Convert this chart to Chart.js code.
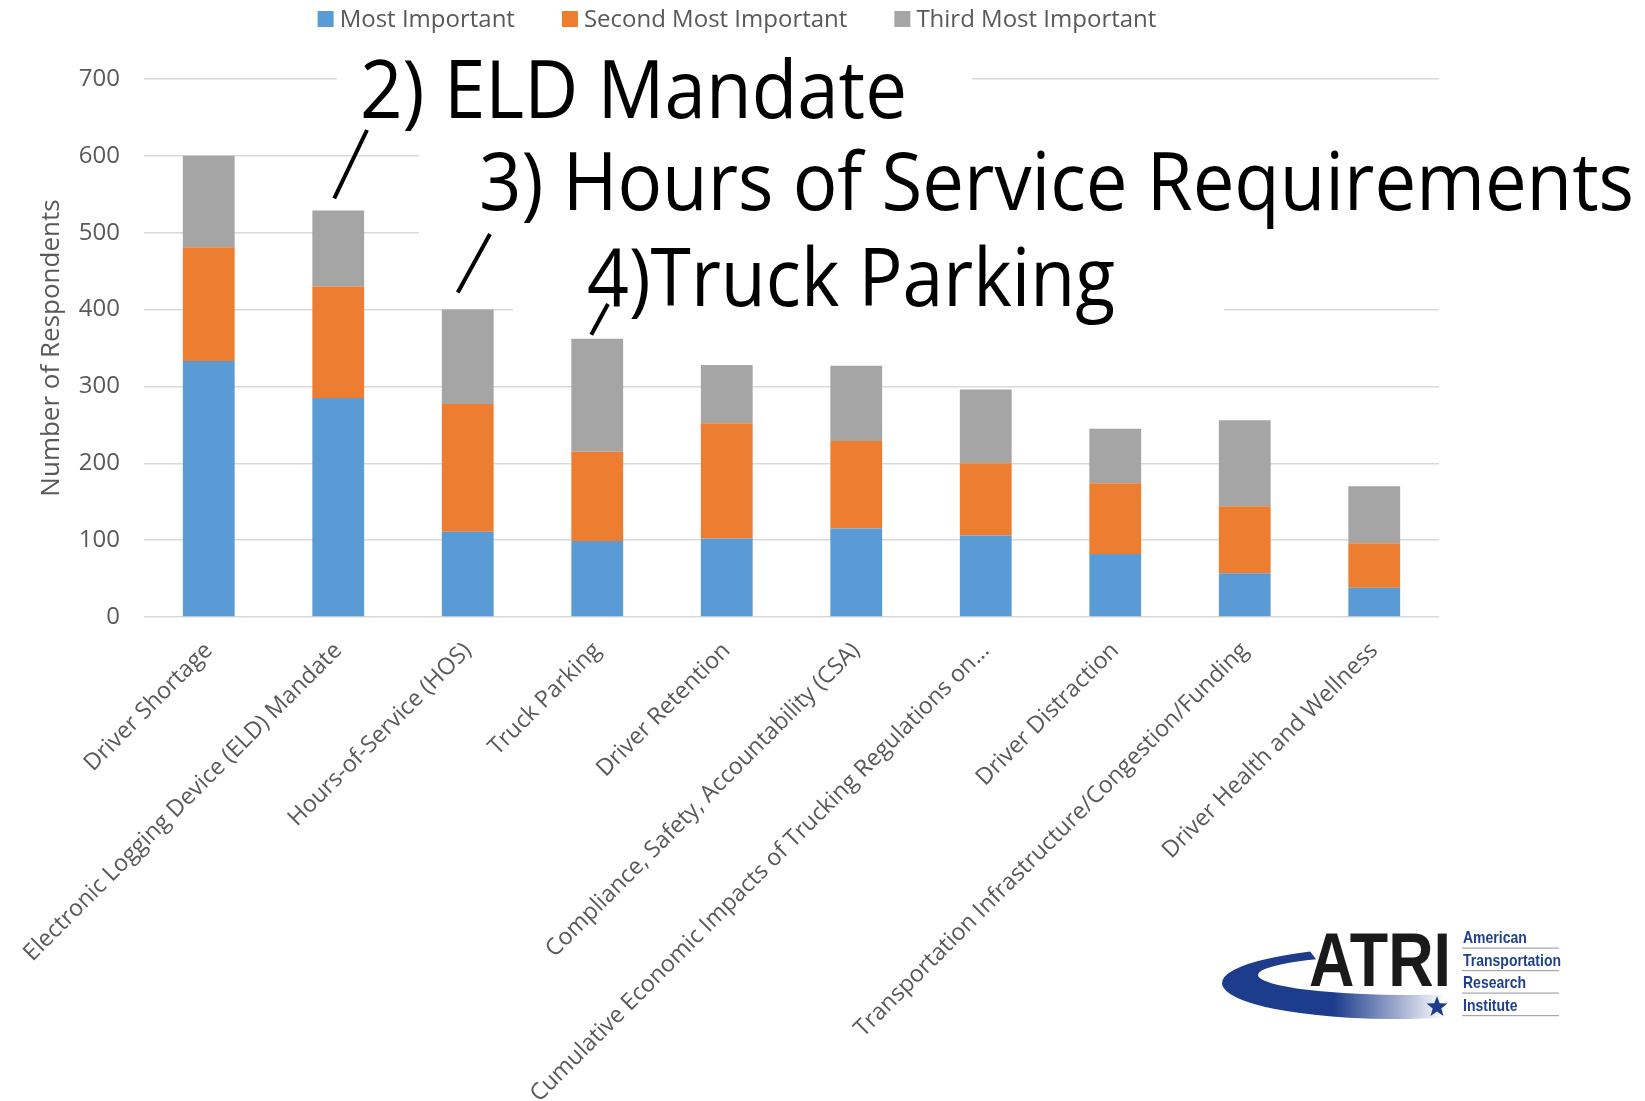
<!DOCTYPE html>
<html>
<head>
<meta charset="utf-8">
<script src="https://cdn.jsdelivr.net/npm/chart.js@4/dist/chart.umd.min.js"></script>
<style>
  html, body { margin: 0; padding: 0; background: #fff; }
  #wrap { width: 1645px; height: 1101px; position: relative; }
</style>
</head>
<body>
<div id="wrap"><canvas id="issuesChart"></canvas></div>
<script>
const categories = [
  "Driver Shortage",
  "Electronic Logging Device (ELD) Mandate",
  "Hours-of-Service (HOS)",
  "Truck Parking",
  "Driver Retention",
  "Compliance, Safety, Accountability (CSA)",
  "Cumulative Economic Impacts of Trucking Regulations on...",
  "Driver Distraction",
  "Transportation Infrastructure/Congestion/Funding",
  "Driver Health and Wellness"
];
const seriesLabels = ["Most Important", "Second Most Important", "Third Most Important"];
const mostImportant = [333, 285, 111, 99, 102, 115, 106, 82, 57, 38];
const secondMost = [148, 145, 166, 116, 150, 114, 94, 92, 87, 58];
const thirdMost = [119, 99, 123, 147, 76, 98, 96, 71, 112, 74];
const yTicks = [0, 100, 200, 300, 400, 500, 600, 700];

const callouts = [
  { text: "2) ELD Mandate", bar: 1 },
  { text: "3) Hours of Service Requirements", bar: 2 },
  { text: "4)Truck Parking", bar: 3 }
];
const logoLines = ["American", "Transportation", "Research", "Institute"];

// where the callout text sits on the slide (left, right, baseline), white box behind it, pointer
const calloutLayout = [
  { left: 360, right: 907, baseline: 118, box: [337, 46, 635, 94], from: [367, 130], tip: [-4, -12] },
  { left: 479, right: 1634, baseline: 210, box: [419, 140, 1226, 115], from: [490, 234], tip: [-10, -17] },
  { left: 587, right: 1115, baseline: 306, box: [513, 256, 711, 70], from: [608, 304], tip: [-6, -4] }
];

const GREY = "#595959";

function fitText(ctx, text, x, y, width) {
  const w = ctx.measureText(text).width;
  ctx.save();
  ctx.translate(x, y);
  ctx.scale(width / w, 1);
  ctx.fillText(text, 0, 0);
  ctx.restore();
}

const topLegend = {
  id: "topLegend",
  afterDraw(chart) {
    const ctx = chart.ctx;
    ctx.save();
    ctx.font = '24px "Open Sans"';
    ctx.textBaseline = "middle";
    const items = chart.data.datasets.map(ds => ({
      label: ds.label, color: ds.backgroundColor, w: ctx.measureText(ds.label).width
    }));
    const box = 16, gap = 6, spacing = 47;
    const total = items.reduce((s, it) => s + box + gap + it.w, 0) + spacing * (items.length - 1);
    let x = 737 - total / 2;
    const y = 19;
    items.forEach(it => {
      ctx.fillStyle = it.color;
      ctx.fillRect(x, y - 8, box, box);
      ctx.fillStyle = GREY;
      ctx.fillText(it.label, x + box + gap, y + 1);
      x += box + gap + it.w + spacing;
    });
    ctx.restore();
  }
};

const calloutPlugin = {
  id: "callouts",
  beforeDatasetsDraw(chart) {
    const ctx = chart.ctx;
    ctx.save();
    ctx.fillStyle = "#fff";
    calloutLayout.forEach(c => ctx.fillRect(c.box[0], c.box[1], c.box[2], c.box[3]));
    ctx.restore();
  },
  afterDraw(chart) {
    const ctx = chart.ctx;
    const meta = chart.getDatasetMeta(2);
    ctx.save();
    ctx.fillStyle = "#000";
    ctx.font = '80px "Open Sans"';
    ctx.textBaseline = "alphabetic";
    callouts.forEach((c, i) => {
      const l = calloutLayout[i];
      fitText(ctx, c.text, l.left, l.baseline, l.right - l.left);
      const bar = meta.data[c.bar];
      ctx.strokeStyle = "#000";
      ctx.lineWidth = 4;
      ctx.beginPath();
      ctx.moveTo(l.from[0], l.from[1]);
      ctx.lineTo(bar.x + l.tip[0], bar.y + l.tip[1]);
      ctx.stroke();
    });
    ctx.restore();
    drawLogo(ctx);
  }
};

function drawLogo(ctx) {
  ctx.save();
  // swoosh
  const grad = ctx.createLinearGradient(1222, 0, 1445, 0);
  grad.addColorStop(0, "#1d3c8c");
  grad.addColorStop(0.5, "#1d3c8c");
  grad.addColorStop(1, "rgba(29,60,140,0)");
  ctx.fillStyle = grad;
  ctx.beginPath();
  ctx.ellipse(1395, 983, 173, 36, 0, Math.PI * 1.337, Math.PI * 0.33, true);
  ctx.ellipse(1408, 975, 150, 20, 0, Math.PI * 0.36, Math.PI * 1.29, false);
  ctx.closePath();
  ctx.fill();

  ctx.fillStyle = "#1a1a1a";
  ctx.font = 'bold 76px "Liberation Sans"';
  ctx.textBaseline = "alphabetic";
  fitText(ctx, "ATRI", 1309, 986, 142);

  // star
  ctx.fillStyle = "#1d3c8c";
  ctx.beginPath();
  for (let k = 0; k < 10; k++) {
    const r = k % 2 === 0 ? 11 : 4.5;
    const a = -Math.PI / 2 + k * Math.PI / 5;
    ctx.lineTo(1437 + r * Math.cos(a), 1007 + r * Math.sin(a));
  }
  ctx.closePath();
  ctx.fill();

  ctx.font = 'bold 17px "Liberation Sans"';
  const trW = ctx.measureText("Transportation").width;
  const sx = 98 / trW;
  logoLines.forEach((t, i) => {
    const by = 943 + i * 22.5;
    ctx.fillStyle = "#1f3f8f";
    ctx.save();
    ctx.translate(1463, by);
    ctx.scale(sx, 1);
    ctx.fillText(t, 0, 0);
    ctx.restore();
    ctx.fillStyle = "#a6a6a6";
    ctx.fillRect(1462, by + 4.5, 97, 1.2);
  });
  ctx.restore();
}

const ctx = document.getElementById("issuesChart").getContext("2d");
new Chart(ctx, {
  type: "bar",
  data: {
    labels: categories,
    datasets: [
      { label: seriesLabels[0], data: mostImportant, backgroundColor: "#5b9bd5" },
      { label: seriesLabels[1], data: secondMost, backgroundColor: "#ed7d31" },
      { label: seriesLabels[2], data: thirdMost, backgroundColor: "#a5a5a5" }
    ]
  },
  options: {
    responsive: true,
    maintainAspectRatio: false,
    animation: false,
    devicePixelRatio: 1,
    layout: { padding: { top: 79, right: 206, bottom: 0, left: 0 } },
    datasets: { bar: { barPercentage: 0.4, categoryPercentage: 1 } },
    plugins: {
      legend: { display: false },
      tooltip: { enabled: false }
    },
    scales: {
      x: {
        stacked: true,
        grid: { display: false },
        border: { display: false },
        ticks: {
          autoSkip: false,
          minRotation: 45,
          maxRotation: 45,
          padding: 12,
          color: GREY,
          font: { family: "Open Sans", size: 23.3 }
        },
        afterFit: scale => { scale.height = 484; }
      },
      y: {
        stacked: true,
        min: 0,
        max: 700,
        afterBuildTicks: scale => { scale.ticks = yTicks.map(v => ({ value: v })); },
        grid: { color: "#d9d9d9", lineWidth: 1.5, drawTicks: false },
        border: { display: false },
        ticks: {
          padding: 24,
          color: GREY,
          font: { family: "Open Sans", size: 24 }
        },
        title: {
          display: true,
          text: "Number of Respondents",
          color: GREY,
          font: { family: "Open Sans", size: 26 },
          padding: { top: 36 }
        },
        afterFit: scale => { scale.width = 144; }
      }
    }
  },
  plugins: [topLegend, calloutPlugin]
});
</script>
</body>
</html>
